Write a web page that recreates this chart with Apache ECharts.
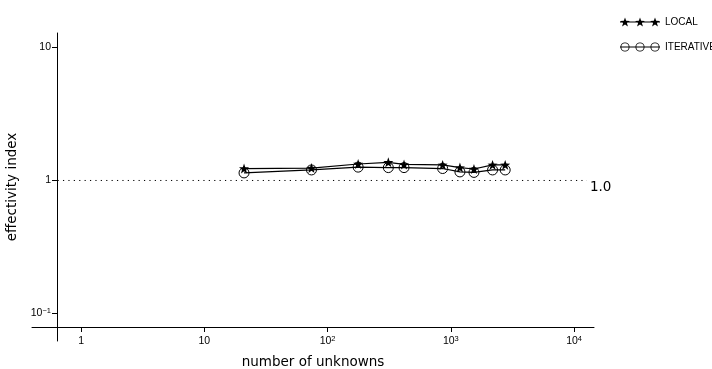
<!DOCTYPE html>
<html>
<head>
<meta charset="utf-8">
<script src="https://cdn.jsdelivr.net/npm/echarts@6/dist/echarts.min.js"></script>
<style>html,body{margin:0;padding:0;background:#fff;}#c{width:712px;height:369px;}</style>
</head>
<body>
<div id="c"></div>
<script>
// ---- data ----
var unknowns = [21, 74, 177, 311, 417, 858, 1185, 1540, 2180, 2760];
var localIdx = [1.23, 1.24, 1.33, 1.37, 1.32, 1.31, 1.25, 1.22, 1.31, 1.31];
var iterIdx = [1.14, 1.20, 1.26, 1.25, 1.25, 1.23, 1.16, 1.15, 1.20, 1.20];
var refX = [0.645, 12700];
var refY = [1, 1];
var xTickValues = [1, 10, 100, 1000, 10000];
var xTickLabels = ['{b|1}', '{b|10}', '{b|10}{s|2}', '{b|10}{s|3}', '{b|10}{s|4}'];
var yTickValues = [0.1, 1, 10];
var yTickLabels = ['{b|10}{s|\u22121}', '{b|1}', '{b|10}'];
var refLabel = '1.0';

function zip(a, b) { return a.map(function (v, i) { return [v, b[i]]; }); }
function lab(vals, labels) {
  return function (v) {
    for (var i = 0; i < vals.length; i++) {
      if (Math.abs(Math.log10(v) - Math.log10(vals[i])) < 1e-6) return labels[i];
    }
    return '';
  };
}
function starPath(cx) {
  var p = [[0,0.5],[1.176,3.882],[4.755,3.955],[1.902,6.118],[2.939,9.545],[0,7.5],[-2.939,9.545],[-1.902,6.118],[-4.755,3.955],[-1.176,3.882]];
  return 'M' + p.map(function (q) { return (cx + q[0]).toFixed(3) + ',' + q[1]; }).join('L') + 'Z';
}
function ringPath(cx) {
  var R = 4.6, r = 3.7;
  return 'M' + (cx - R) + ',5A' + R + ',' + R + ' 0 1 1 ' + (cx + R) + ',5A' + R + ',' + R + ' 0 1 1 ' + (cx - R) + ',5Z' +
         'M' + (cx - r) + ',5A' + r + ',' + r + ' 0 1 0 ' + (cx + r) + ',5A' + r + ',' + r + ' 0 1 0 ' + (cx - r) + ',5Z';
}
var barRect = 'M0,4.4L40,4.4L40,5.6L0,5.6Z';
var starIcon = 'path://' + starPath(5) + starPath(20) + starPath(35) + barRect;
var ringIcon = 'path://' + ringPath(5) + ringPath(20) + ringPath(35) + barRect;
var starSymbol = 'path://' + starPath(5);

var richTick = {
  b: { fontFamily: 'Liberation Sans', fontSize: 10.5, color: '#000', lineHeight: 13 },
  s: { fontFamily: 'Liberation Sans', fontSize: 7.5, color: '#000', verticalAlign: 'top', lineHeight: 9 }
};

var chart = echarts.init(document.getElementById('c'), null, { renderer: 'canvas' });
chart.setOption({
  animation: false,
  backgroundColor: '#fff',
  grid: { left: 32, right: 118, top: 33, bottom: 28, containLabel: false, outerBoundsMode: 'none' },
  legend: {
    orient: 'vertical', left: 615, top: 12, itemWidth: 40, itemHeight: 10, itemGap: 15,
    textStyle: { fontFamily: 'Liberation Sans', fontSize: 10, color: '#000' },
    data: [
      { name: 'LOCAL', icon: starIcon, itemStyle: { color: '#000', borderWidth: 0 } },
      { name: 'ITERATIVE', icon: ringIcon, itemStyle: { color: '#000', borderWidth: 0 } }
    ]
  },
  xAxis: {
    type: 'log', logBase: 10, min: 0.4, max: 14500, offset: -14,
    name: 'number of unknowns', nameLocation: 'middle', nameGap: 28,
    nameTextStyle: { fontFamily: 'DejaVu Sans', fontSize: 13.5, color: '#000' },
    axisLine: { show: true, lineStyle: { color: '#000', width: 1 } },
    axisTick: { show: true, length: 5, inside: false, customValues: xTickValues, lineStyle: { color: '#000', width: 1 } },
    axisLabel: { margin: 8, customValues: xTickValues, formatter: lab(xTickValues, xTickLabels), rich: richTick },
    splitLine: { show: false }, minorTick: { show: false }
  },
  yAxis: {
    type: 'log', logBase: 10, min: 0.0621, max: 12.85, offset: -25,
    name: 'effectivity index', nameLocation: 'middle', nameGap: 30,
    nameTextStyle: { fontFamily: 'DejaVu Sans', fontSize: 13.5, color: '#000' },
    axisLine: { show: true, lineStyle: { color: '#000', width: 1 } },
    axisTick: { show: true, length: 5, inside: false, customValues: yTickValues, lineStyle: { color: '#000', width: 1 } },
    axisLabel: { margin: 6, customValues: yTickValues, formatter: lab(yTickValues, yTickLabels), rich: richTick },
    splitLine: { show: false }, minorTick: { show: false }
  },
  series: [
    {
      name: 'ref', type: 'line', data: zip(refX, refY), symbol: 'none', silent: true, z: 1,
      lineStyle: { color: '#000', width: 1, type: [1.2, 4.2] },
      endLabel: { show: true, formatter: refLabel, distance: 3, offset: [0, 7], fontFamily: 'DejaVu Sans', fontSize: 13.5, color: '#000' }
    },
    {
      name: 'ITERATIVE', type: 'line', data: zip(unknowns, iterIdx), z: 2,
      symbol: 'circle', symbolSize: 10, showSymbol: true,
      itemStyle: { color: 'transparent', borderColor: '#000', borderWidth: 1 },
      lineStyle: { color: '#000', width: 1.2 }
    },
    {
      name: 'LOCAL', type: 'line', data: zip(unknowns, localIdx), z: 3,
      symbol: starSymbol, symbolSize: 10, showSymbol: true,
      itemStyle: { color: '#000', borderWidth: 0 },
      lineStyle: { color: '#000', width: 1.2 }
    }
  ]
});
</script>
</body>
</html>
